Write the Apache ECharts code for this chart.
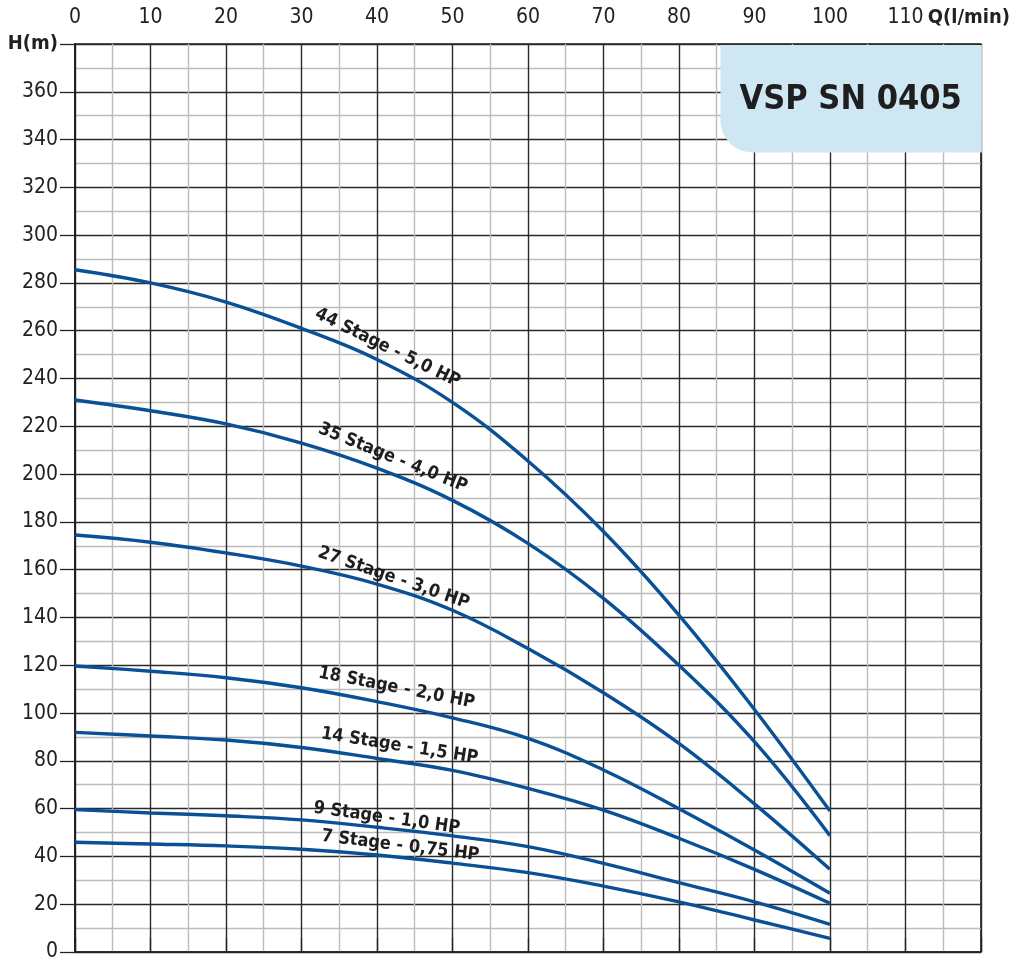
<!DOCTYPE html>
<html>
<head>
<meta charset="utf-8">
<script src="https://cdn.jsdelivr.net/npm/echarts@6/dist/echarts.min.js"></script>
<style>
html,body{margin:0;padding:0;background:#fff;}
#chart{width:1013px;height:966px;}
</style>
</head>
<body>
<div id="chart"></div>
<script>
// Flow Q (l/min)
var flow = [0, 10, 20, 30, 40, 50, 60, 70, 80, 90, 100];
// Head H (m) for each model
var s44 = [285.5, 280, 272, 261, 248, 230, 205.5, 176, 141, 101.5, 59];
var s35 = [231, 226.5, 221, 213, 202.5, 189, 171, 148, 120, 88, 48.7];
var s27 = [174.5, 171.5, 167, 161.5, 154, 143, 127, 108.5, 87.3, 62, 34.6];
var s18 = [119.7, 117.5, 114.8, 110.6, 104.8, 98, 89.4, 76.2, 60, 42.7, 24.6];
var s14 = [91.9, 90.4, 88.7, 85.6, 81, 76, 68.5, 59.4, 47.6, 34.6, 20.4];
var s9 = [59.6, 58.2, 57, 55.3, 52.2, 48.6, 44.1, 37.1, 29, 21, 11.6];
var s7 = [45.9, 45.2, 44.4, 43, 40.6, 37.2, 33.2, 27.6, 21, 13.4, 5.7];

var seriesNames = ['44 Stage - 5,0 HP', '35 Stage - 4,0 HP', '27 Stage - 3,0 HP', '18 Stage - 2,0 HP', '14 Stage - 1,5 HP', '9 Stage - 1,0 HP', '7 Stage - 0,75 HP'];
var seriesValues = [s44, s35, s27, s18, s14, s9, s7];
// label anchor (Q, H) and angle in degrees
var labelQ = [41.4, 42.1, 42.2, 42.6, 43.0, 41.3, 43.1];
var labelH = [252.8, 206.8, 156.5, 110.5, 86.2, 56.0, 44.4];
var labelAngle = [-26, -22, -19, -11, -9, -8, -7];

var title = 'VSP SN 0405';
var xAxisName = 'Q(l/min)';
var yAxisName = 'H(m)';

var FONT = "'Liberation Sans Narrow', 'DejaVu Sans Condensed', 'Roboto', sans-serif";
var LINE = '#0a5096';

var chart = echarts.init(document.getElementById('chart'), null, {renderer: 'canvas'});

var series = seriesNames.map(function (n, i) {
  return {
    name: n,
    type: 'line',
    smooth: 0.4,
    showSymbol: false,
    silent: true,
    data: flow.map(function (q, j) { return [q, seriesValues[i][j]]; }),
    lineStyle: {color: LINE, width: 3.4, cap: 'butt'},
    z: 5
  };
});

var option = {
  animation: false,
  backgroundColor: '#fff',
  grid: {left: 75, top: 44, right: 31, bottom: 14, show: true, borderColor: '#222', borderWidth: 1.5, backgroundColor: 'transparent'},
  xAxis: {
    type: 'value', position: 'top', min: 0, max: 120, interval: 10,
    axisLine: {show: true, lineStyle: {color: '#222', width: 1.5}},
    axisTick: {show: true, length: 14, lineStyle: {color: '#222', width: 1.3}},
    axisLabel: {
      margin: 16, color: '#222', fontFamily: FONT, fontSize: 21,
      formatter: function (v) { return v === 120 ? '{b|' + xAxisName + '}' : String(v); },
      rich: {b: {fontFamily: FONT, fontSize: 20, fontWeight: 'bold', color: '#222', padding: [0, 24, 0, 0]}}
    },
    splitLine: {show: true, lineStyle: {color: '#2a2a2a', width: 1.4}},
    minorTick: {show: false, splitNumber: 2},
    minorSplitLine: {show: true, lineStyle: {color: '#bcbcbc', width: 1.4}}
  },
  yAxis: {
    type: 'value', min: 0, max: 380, interval: 20,
    axisLine: {show: true, lineStyle: {color: '#222', width: 2}},
    axisTick: {show: true, length: 15, lineStyle: {color: '#222', width: 1.3}},
    axisLabel: {
      margin: 17, color: '#222', fontFamily: FONT, fontSize: 21,
      formatter: function (v) { return v === 380 ? '{b|' + yAxisName + '}' : String(v); },
      rich: {b: {fontFamily: FONT, fontSize: 20, fontWeight: 'bold', color: '#222'}}
    },
    splitLine: {show: true, lineStyle: {color: '#2a2a2a', width: 1.4}},
    minorTick: {show: false, splitNumber: 2},
    minorSplitLine: {show: true, lineStyle: {color: '#bcbcbc', width: 1.4}}
  },
  series: series
};
chart.setOption(option);

var graphics = [];
seriesNames.forEach(function (n, i) {
  var p = chart.convertToPixel({gridIndex: 0}, [labelQ[i], labelH[i]]);
  graphics.push({
    type: 'text', x: p[0], y: p[1], rotation: labelAngle[i] * Math.PI / 180, z: 20,
    style: {text: n, fill: '#1e1e1e', font: 'bold 18px ' + FONT, textAlign: 'center', textVerticalAlign: 'middle'}
  });
});
// title box at top-right corner of the grid
var tl = chart.convertToPixel({gridIndex: 0}, [85.5, 380]);
var br = chart.convertToPixel({gridIndex: 0}, [120, 335]);
graphics.push({
  type: 'rect', z: 30,
  shape: {x: tl[0], y: tl[1] + 1, width: br[0] - tl[0] + 1, height: br[1] - tl[1], r: [0, 0, 0, 32]},
  style: {fill: '#cfe6f3'}
});
graphics.push({
  type: 'text', z: 31, x: (tl[0] + br[0]) / 2, y: (tl[1] + br[1]) / 2 + 2,
  style: {text: title, fill: '#1e1e1e', font: 'bold 34px ' + FONT, textAlign: 'center', textVerticalAlign: 'middle'}
});
chart.setOption({graphic: graphics});
</script>
</body>
</html>
